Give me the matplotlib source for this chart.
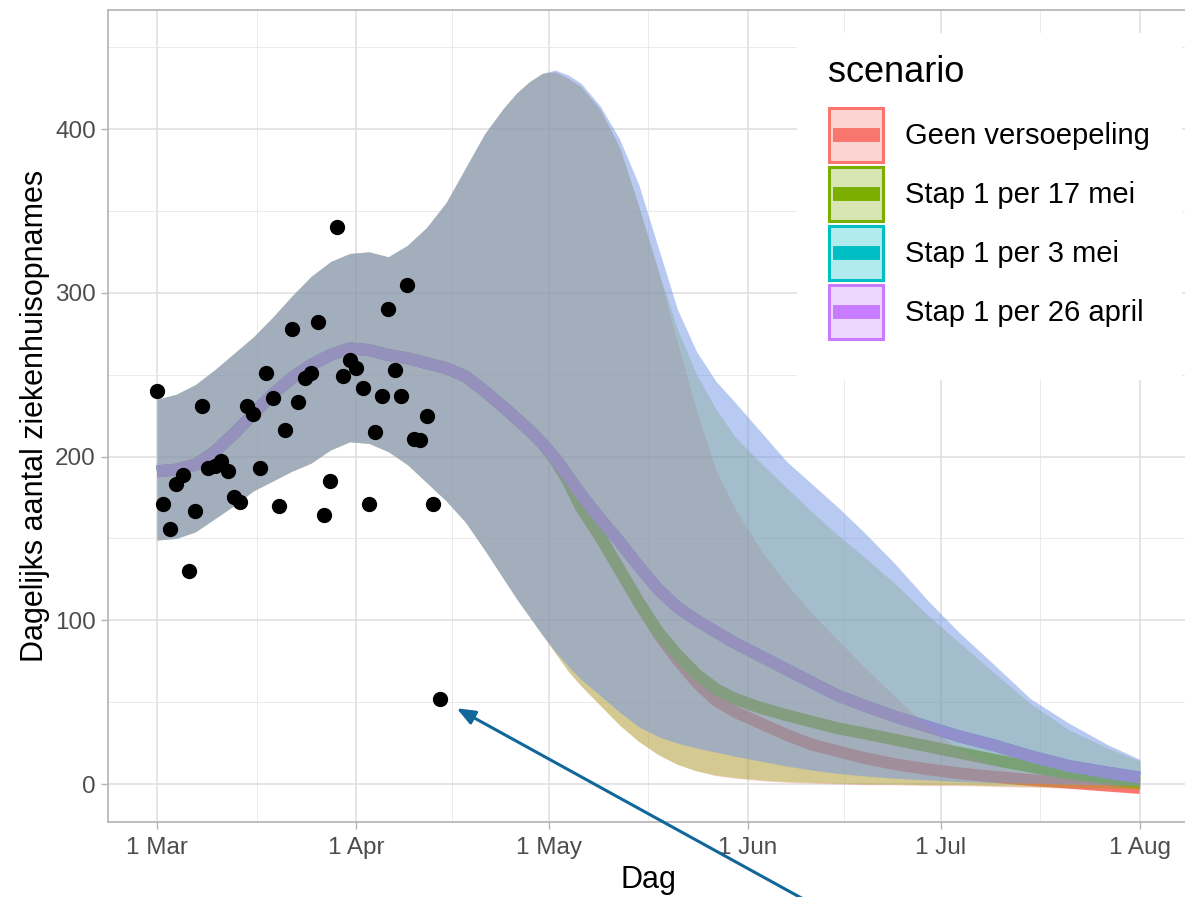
import numpy as np
import matplotlib
matplotlib.use("Agg")
import matplotlib.pyplot as plt
import matplotlib.dates as mdates
from matplotlib.colors import to_rgba
from matplotlib.lines import Line2D
from matplotlib.patches import Rectangle
from matplotlib.legend_handler import HandlerBase

plt.rcParams['font.family'] = ['Liberation Sans', 'DejaVu Sans']

start = np.datetime64('2021-03-01')

# waargenomen ziekenhuisopnames, 1 maart t/m 14 april
obs_dag = list(range(45))
obs_opnames = [240, 171, 156, 183, 189, 130, 167, 231, 193, 194, 197, 191, 175, 172, 231,
               226, 193, 251, 236, 170, 216, 278, 233, 248, 251, 282, 164, 185, 340, 249,
               259, 254, 242, 171, 215, 237, 290, 253, 237, 305, 211, 210, 225, 171, 52]

# modeldagen (dagen na 1 maart)
dag = [0, 3, 6, 9, 12, 15, 18, 21, 24, 27, 30, 33, 36, 39, 42, 45, 48, 51, 54, 56, 58, 60,
       62, 64, 66, 69, 72, 75, 78, 81, 84, 87, 90, 94, 98, 102, 106, 110, 115, 120, 125,
       130, 136, 142, 148, 153]

# tot eind april lopen alle scenario's gelijk
med_voor = [191, 192, 195, 203, 214, 226, 238, 248, 256, 262, 266, 265, 262, 260, 257,
            254, 249, 240, 230, 223, 216, 208]
hoog_voor = [235, 238, 244, 253, 263, 273, 285, 298, 310, 319, 324, 325, 322, 329, 340,
             355, 376, 397, 413, 422, 429, 434]
laag_voor = [149, 150, 154, 162, 170, 179, 185, 191, 196, 204, 209, 208, 203, 195, 184,
             173, 160, 143, 125, 113, 102, 91]

scenarios = ['Geen versoepeling', 'Stap 1 per 17 mei', 'Stap 1 per 3 mei', 'Stap 1 per 26 april']
kleuren = ['#F8766D', '#7CAE00', '#00BFC4', '#C77CFF']

med_geen = med_voor + [198, 185, 169, 151, 131, 111, 92, 76, 62, 51, 44, 37, 30, 24, 20,
                       16, 12, 9, 6.5, 4.5, 2.5, 0.8, -1, -2.4]
med_17mei = med_voor + [198, 185, 169, 151, 131, 111, 93, 79, 67, 58, 52, 46.5, 42, 38,
                        34, 31, 27, 23, 19, 15, 10.5, 6.5, 3, 0.6]
med_3mei = med_voor + [199, 188, 177, 162, 148, 133, 119, 108, 100, 93, 86, 78, 70, 62,
                       54, 48, 41, 35, 29, 24, 17, 11, 7, 4]
med_26apr = med_voor + [199, 188, 177, 162, 148, 133, 119, 108, 100, 93, 86, 78, 70, 62,
                        54, 48, 41, 35, 29, 24, 17, 11, 7, 4]

hoog_geen = hoog_voor + [435, 431, 426, 412, 389, 353, 314, 270, 228, 192, 168, 143, 122,
                         104, 88, 72, 53, 35, 21, 12, 6, 3, 1, -1]
hoog_17mei = hoog_voor + [435, 431, 426, 412, 389, 353, 314, 278, 250, 229, 212, 196, 181,
                          166, 152, 139, 122, 103, 86, 69, 49, 33, 22, 14]
hoog_3mei = hoog_voor + [436, 433, 428, 414, 394, 366, 328, 290, 264, 246, 233, 215, 197,
                         183, 169, 154, 134, 112, 92, 74, 52, 37, 24, 15]
hoog_26apr = hoog_voor + [436, 433, 428, 414, 394, 366, 328, 290, 264, 246, 233, 215, 197,
                          183, 169, 154, 134, 112, 92, 74, 52, 37, 24, 15]

laag_geen = laag_voor + [80, 69, 60, 48, 36, 26, 18, 12, 8, 5, 3.5, 2, 1, 0.5, 0, -0.5,
                         -0.5, -1, -1, -1.5, -2, -2.5, -3, -3.5]
laag_17mei = laag_voor + [80, 69, 60, 48, 36, 26, 18, 12, 8, 5.5, 4, 2.5, 1.5, 1, 0.5, 0,
                          0, -0.5, -0.5, -1, -1.5, -2, -2.5, -3]
laag_3mei = laag_voor + [81, 72, 64, 54, 44, 35, 29, 25, 22, 19.5, 17, 14, 11, 8.5, 6.5,
                         5, 3.5, 2.5, 1.5, 1, 0.5, 0, -0.5, -1]
laag_26apr = laag_voor + [81, 72, 64, 54, 44, 35, 29, 25, 22, 19.5, 17, 14, 11, 8.5, 6.5,
                          5, 3.5, 2.5, 1.5, 1, 0.5, 0, -0.5, -1]

mediaan = [med_geen, med_17mei, med_3mei, med_26apr]
hoog = [hoog_geen, hoog_17mei, hoog_3mei, hoog_26apr]
laag = [laag_geen, laag_17mei, laag_3mei, laag_26apr]

maanden = ['2021-03-01', '2021-04-01', '2021-05-01', '2021-06-01', '2021-07-01', '2021-08-01']
maand_labels = ['1 Mar', '1 Apr', '1 May', '1 Jun', '1 Jul', '1 Aug']
y_ticks = [0, 100, 200, 300, 400]


class KeyHandler(HandlerBase):
    # ggplot-achtige legendasleutel: vlak met rand en een lijn in het midden
    def create_artists(self, legend, orig_handle, xdescent, ydescent, width, height,
                       fontsize, trans):
        kleur = orig_handle.get_color()
        r = Rectangle((-xdescent + 1, -ydescent + 1), width - 2, height - 2,
                      facecolor=to_rgba(kleur, 0.3), edgecolor=kleur, lw=2.2,
                      transform=trans)
        y = -ydescent + height / 2
        l = Line2D([-xdescent + width * 0.09, -xdescent + width * 0.91], [y, y],
                   color=kleur, lw=10, solid_capstyle='butt', transform=trans)
        return [r, l]


datums = start + np.array(dag, dtype='timedelta64[D]')
obs_datums = start + np.array(obs_dag, dtype='timedelta64[D]')

fig = plt.figure(figsize=(11.85, 8.97), dpi=100)
ax = fig.add_axes([0.09097, 0.08361, 0.91241, 0.90524])

# lijnen eerst, banden er half doorzichtig overheen
for med, kleur in zip(mediaan, kleuren):
    ax.plot(datums, med, color=kleur, lw=8.6, solid_capstyle='butt', zorder=2)
for lo, hi, kleur in zip(laag, hoog, kleuren):
    ax.fill_between(datums, lo, hi, color=kleur, alpha=0.3, lw=0, zorder=3)

ax.plot(obs_datums, obs_opnames, 'o', color='black', ms=10, zorder=4)

x0 = mdates.date2num(np.datetime64('2021-03-01'))
x1 = mdates.date2num(np.datetime64('2021-08-01'))
ax.set_xlim(x0 - 7.65, x1 + 7.65)
ax.set_ylim(-23.2, 472.7)

maand_num = mdates.date2num(np.array(maanden, dtype='datetime64[D]'))
ax.set_xticks(maand_num)
ax.set_xticklabels(maand_labels)
ax.set_xticks((maand_num[:-1] + maand_num[1:]) / 2, minor=True)
ax.set_yticks(y_ticks)
ax.set_yticklabels([str(v) for v in y_ticks])
ax.set_yticks([50, 150, 250, 350, 450], minor=True)

ax.set_axisbelow(True)
ax.grid(which='major', color='#DEDEDE', lw=1.1)
ax.grid(which='minor', color='#E6E6E6', lw=0.6)
for s in ax.spines.values():
    s.set_color('#B3B3B3')
    s.set_linewidth(1.2)
ax.tick_params(which='major', length=5, width=1, color='#B3B3B3', labelcolor='#4D4D4D',
               labelsize=17.5, pad=3.5)
ax.tick_params(axis='x', which='major', pad=6)
ax.tick_params(which='minor', length=0)

ax.set_xlabel('Dag', fontsize=22, labelpad=4)
ax.set_ylabel('Dagelijks aantal ziekenhuisopnames', fontsize=22, labelpad=4)

# witte achtergrond van de legenda
ax.add_patch(Rectangle((797 / 1185, 1 - 380 / 897), 385 / 1185, 347 / 897,
                       transform=fig.transFigure, facecolor='white', edgecolor='none',
                       zorder=4.5, clip_on=False))
handles = [Line2D([], [], color=k) for k in kleuren]
leg = ax.legend(handles, scenarios, handler_map={Line2D: KeyHandler()}, title='scenario',
                loc='upper left', bbox_to_anchor=(828 / 1185, 1 - 55 / 897),
                bbox_transform=fig.transFigure, frameon=False, fontsize=21, title_fontsize=26,
                borderpad=0, borderaxespad=0, labelspacing=0.07, handlelength=1.95,
                handleheight=2.63, handletextpad=0.68, alignment='left')
leg.set_zorder(5)
leg._legend_box.sep = 12

ax.annotate('', xy=(mdates.date2num(obs_datums[-1]), obs_opnames[-1]), xycoords='data',
            xytext=(805, -3), textcoords='figure pixels',
            arrowprops=dict(arrowstyle='-|>,head_length=0.55,head_width=0.22',
                            color='#12679A', lw=2.2, shrinkA=0, shrinkB=14,
                            mutation_scale=20),
            annotation_clip=False)

fig.savefig('out.png', dpi=100)
